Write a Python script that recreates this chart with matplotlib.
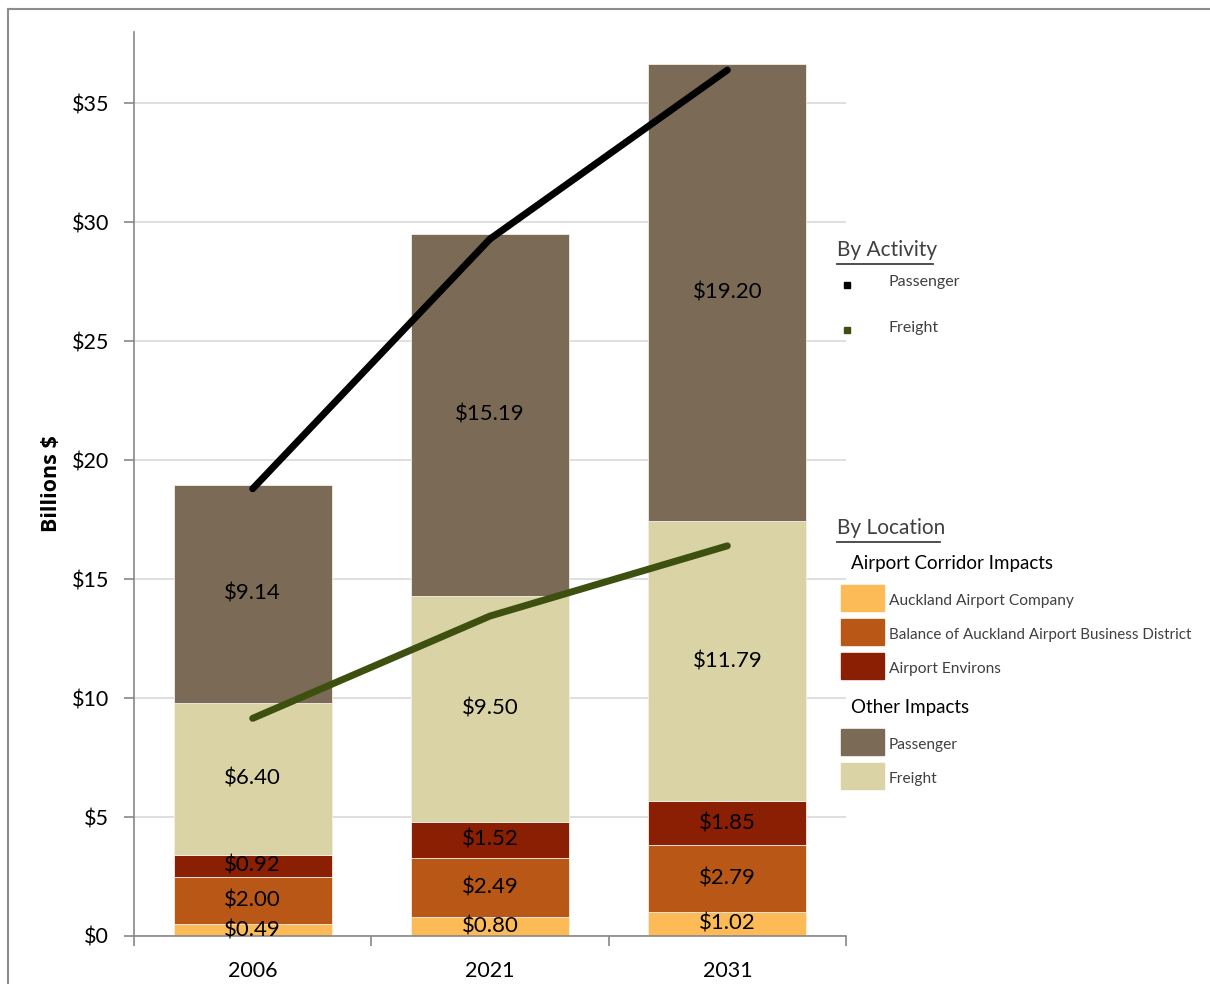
import matplotlib.pyplot as plt
from matplotlib.lines import Line2D
from matplotlib.patches import Rectangle
import numpy as np

years = ['2006', '2021', '2031']
airport_company = [0.49, 0.80, 1.02]
balance_district = [2.00, 2.49, 2.79]
airport_environs = [0.92, 1.52, 1.85]
other_freight = [6.40, 9.50, 11.79]
other_passenger = [9.14, 15.19, 19.20]

# totals by activity (lines)
activity_passenger = [18.8, 29.3, 36.4]
activity_freight = [9.15, 13.45, 16.4]

stack_names = ['Auckland Airport Company', 'Balance of Auckland Airport Business District',
               'Airport Environs', 'Freight', 'Passenger']
stack_colors = ['#FDBB58', '#B95716', '#8A1F03', '#D9D3A6', '#7B6A55']

plt.rcParams['font.family'] = ['Lato', 'DejaVu Sans']

fig = plt.figure(figsize=(12.1, 9.84), dpi=100)
ax = fig.add_axes([134 / 1210, 1 - 936 / 984, (846 - 134) / 1210, (936 - 32) / 984])

x = np.arange(len(years))
series = [airport_company, balance_district, airport_environs, other_freight, other_passenger]
bottom = np.zeros(len(years))
for vals, c in zip(series, stack_colors):
    ax.bar(x, vals, 0.665, bottom=bottom, color=c, edgecolor='#f4efe6', linewidth=0.6, zorder=2)
    for xi, b, v in zip(x, bottom, vals):
        ax.text(xi, b + v / 2, f'${v:.2f}', ha='center', va='center', fontsize=16, color='black', zorder=4)
    bottom += np.array(vals)

ax.plot(x, activity_passenger, color='black', lw=5, solid_capstyle='round', zorder=3)
ax.plot(x, activity_freight, color='#3E5010', lw=5, solid_capstyle='round', zorder=3)

ax.set_xlim(-0.5, 2.5)
ax.set_ylim(0, 38)
ax.set_yticks(range(0, 36, 5))
ax.set_yticklabels([f'${v}' for v in range(0, 36, 5)], fontsize=15.5)
ax.set_xticks(x)
ax.set_xticklabels(years, fontsize=15.5)
ax.set_xticks([-0.5, 0.5, 1.5, 2.5], minor=True)
ax.tick_params(axis='x', which='major', length=0, pad=18)
ax.tick_params(axis='x', which='minor', length=7, color='#888888', width=1.2)
ax.tick_params(axis='y', length=7, color='#888888', width=1.2, pad=11)
ax.grid(axis='y', color='#d9d9d9', lw=1.2, zorder=0)
for s in ['top', 'right']:
    ax.spines[s].set_visible(False)
for s in ['left', 'bottom']:
    ax.spines[s].set_color('#888888')
    ax.spines[s].set_linewidth(1.2)
ax.set_ylabel('Billions $', fontsize=15.5, fontweight='bold', family=['Open Sans', 'DejaVu Sans'], labelpad=7)

# outer chart border
fig.add_artist(Line2D([8 / 1210, 8 / 1210], [0, 1 - 9 / 984], color='#8c8c8c', lw=1.5))
fig.add_artist(Line2D([8 / 1210, 1], [1 - 9 / 984, 1 - 9 / 984], color='#8c8c8c', lw=1.5))


def fx(px):
    return px / 1210


def fy(py):
    return 1 - py / 984


def heading(px, py, s, width):
    fig.text(fx(px), fy(py), s, fontsize=15, color='#404040', va='center', ha='left')
    fig.add_artist(Line2D([fx(px), fx(px + width)], [fy(py + 14), fy(py + 14)], color='#404040', lw=1.3))


# legend: by activity
heading(837, 250, 'By Activity', 96)
fig.add_artist(Rectangle((fx(844), fy(288)), fx(6), 6 / 984, color='black'))
fig.add_artist(Rectangle((fx(844), fy(333)), fx(6), 6 / 984, color='#3E5010'))
fig.text(fx(889), fy(282), 'Passenger', fontsize=11.5, color='#404040', va='center')
fig.text(fx(889), fy(328), 'Freight', fontsize=11.5, color='#404040', va='center')

# legend: by location
heading(837, 528, 'By Location', 103)
fig.text(fx(851), fy(563), 'Airport Corridor Impacts', fontsize=13.5, color='black', va='center')
fig.text(fx(851), fy(707), 'Other Impacts', fontsize=13.5, color='black', va='center')
rows = [(598, 0), (632, 1), (666, 2), (742, 4), (776, 3)]
for py, i in rows:
    fig.add_artist(Rectangle((fx(841), fy(py + 13)), fx(43), 26 / 984, color=stack_colors[i]))
    label = 'Passenger' if i == 4 else stack_names[i]
    fs = 10.9 if i == 1 else 11.2
    fig.text(fx(889), fy(py + 3), label, fontsize=fs, color='#404040', va='center')

fig.savefig('out.png', dpi=100, facecolor='white')
